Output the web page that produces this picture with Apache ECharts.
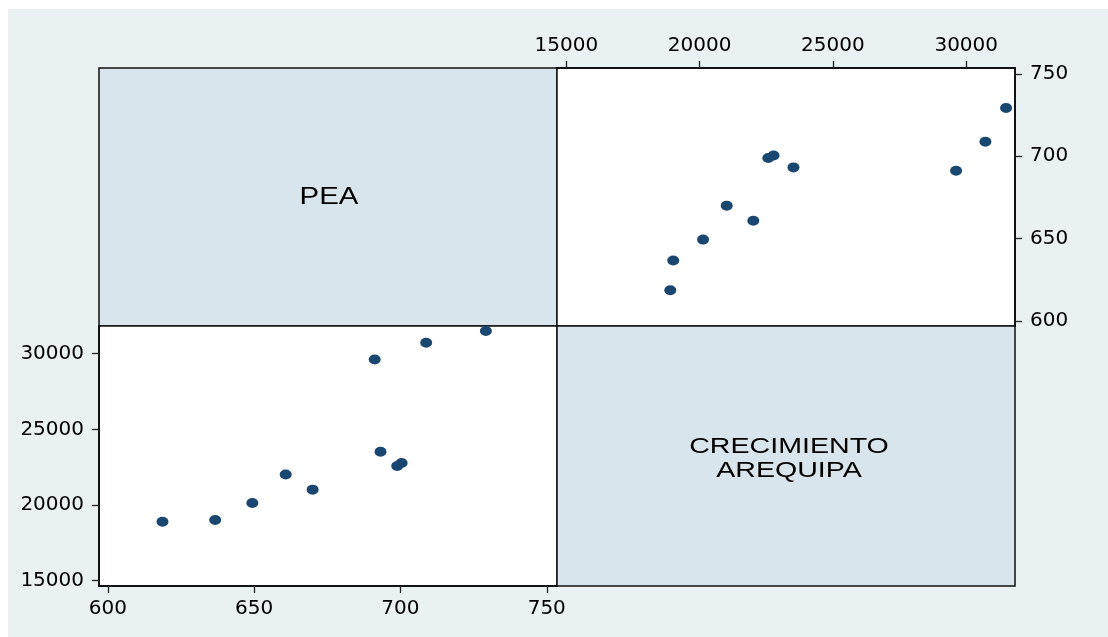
<!DOCTYPE html>
<html>
<head>
<meta charset="utf-8">
<script src="https://cdn.jsdelivr.net/npm/echarts@6/dist/echarts.min.js"></script>
<style>
  html, body { margin: 0; padding: 0; background: #fff; }
  #matrix { width: 1108px; height: 637px; }
</style>
</head>
<body>
<div id="matrix"></div>
<script>
// datos
var pea = [618.7, 636.7, 649.4, 670.0, 660.8, 698.9, 700.4, 693.2, 691.2, 708.8, 729.2];
var crecimiento = [18900, 19010, 20130, 21016, 22014, 22575, 22773, 23520, 29620, 30721, 31495];
var peaTicks = [600, 650, 700, 750];
var crecTicks = [15000, 20000, 25000, 30000];

var peaRange = [597, 753.5];
var crecRange = [14650, 31830];

var dom = document.getElementById("matrix");
var chart = echarts.init(dom, null, { renderer: 'canvas' });

// pares para cada panel
var crecVsPea = [];   // arriba derecha: x = crecimiento, y = pea
var peaVsCrec = [];   // abajo izquierda: x = pea, y = crecimiento
for (var i = 0; i < pea.length; i++) {
    crecVsPea.push([crecimiento[i], pea[i]]);
    peaVsCrec.push([pea[i], crecimiento[i]]);
}

var labelFont = {
    color: '#000',
    fontFamily: 'DejaVu Sans',
    fontSize: 20
};

function valueAxis(gridIndex, position, range, ticks, margin) {
    return {
        type: 'value',
        gridIndex: gridIndex,
        position: position,
        min: range[0],
        max: range[1],
        splitLine: { show: false },
        axisLine: { show: true, onZero: false, lineStyle: { color: '#000', width: 1.5 } },
        axisTick: { show: true, length: 7, inside: false, lineStyle: { color: '#222', width: 1.3 },
                    customValues: ticks },
        axisLabel: Object.assign({
            margin: margin,
            customValues: ticks,
            formatter: function (v) { return String(v); }
        }, labelFont)
    };
}

var diagColor = '#d9e5ec';
var frame = { show: true, borderColor: '#111', borderWidth: 1.5 };

var option = {
    backgroundColor: '#fff',
    animation: false,
    graphic: [
        {
            type: 'rect',
            z: -10,
            shape: { x: 8, y: 9, width: 1100, height: 628 },
            style: { fill: '#e9f1f3' }
        },
        {
            type: 'text',
            z: 100,
            x: 329, y: 198,
            scaleX: 1.28,
            style: {
                text: 'PEA',
                fill: '#000',
                font: '23px "Liberation Sans", Arial, sans-serif',
                textAlign: 'center',
                textVerticalAlign: 'middle'
            }
        },
        {
            type: 'text',
            z: 100,
            x: 789, y: 459,
            scaleX: 1.3,
            style: {
                text: 'CRECIMIENTO\nAREQUIPA',
                fill: '#000',
                font: '22px "Liberation Sans", Arial, sans-serif',
                lineHeight: 24,
                textAlign: 'center',
                textVerticalAlign: 'middle'
            }
        }
    ],
    grid: [
        Object.assign({ left: 99, top: 68, width: 458, height: 258, backgroundColor: diagColor }, frame),
        Object.assign({ left: 557, top: 68, width: 458, height: 258, backgroundColor: '#fff' }, frame),
        Object.assign({ left: 99, top: 326, width: 458, height: 260, backgroundColor: '#fff' }, frame),
        Object.assign({ left: 557, top: 326, width: 458, height: 260, backgroundColor: diagColor }, frame)
    ],
    xAxis: [
        valueAxis(1, 'top', crecRange, crecTicks, 12),
        valueAxis(2, 'bottom', peaRange, peaTicks, 13)
    ],
    yAxis: [
        valueAxis(1, 'right', peaRange, peaTicks, 15),
        valueAxis(2, 'left', crecRange, crecTicks, 15)
    ],
    series: [
        {
            name: 'PEA vs CRECIMIENTO',
            type: 'scatter',
            xAxisIndex: 0,
            yAxisIndex: 0,
            symbol: 'circle',
            symbolSize: [12, 10],
            itemStyle: { color: '#1a476f', opacity: 1 },
            data: crecVsPea
        },
        {
            name: 'CRECIMIENTO vs PEA',
            type: 'scatter',
            xAxisIndex: 1,
            yAxisIndex: 1,
            symbol: 'circle',
            symbolSize: [12, 10],
            itemStyle: { color: '#1a476f', opacity: 1 },
            data: peaVsCrec
        }
    ]
};

chart.setOption(option);
</script>
</body>
</html>
